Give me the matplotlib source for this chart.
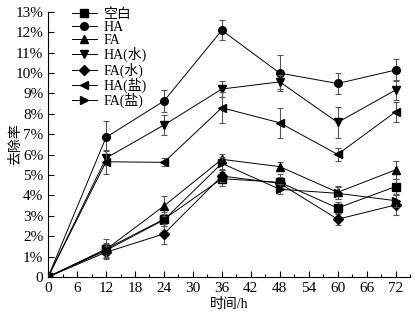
import numpy as np
import matplotlib
matplotlib.use('Agg')
import matplotlib.pyplot as plt
from matplotlib.ticker import MultipleLocator, FuncFormatter

plt.rcParams['font.family'] = ['Liberation Serif', 'Noto Sans CJK SC']
plt.rcParams['font.size'] = 10

# data (removal rate, %)
hours = [0, 12, 24, 36, 48, 60, 72]
names = ['空白', 'HA', 'FA', 'HA(水)', 'FA(水)', 'HA(盐)', 'FA(盐)']
markers = ['s', 'o', '^', 'v', 'D', '<', '>']

blank = [0, 1.37, 2.83, 4.82, 4.64, 3.38, 4.43]
ha = [0, 6.85, 8.63, 12.1, 10.0, 9.49, 10.15]
fa = [0, 1.35, 3.48, 5.77, 5.41, 4.15, 5.25]
ha_w = [0, 5.83, 7.45, 9.22, 9.57, 7.58, 9.17]
fa_w = [0, 1.21, 2.11, 4.95, 4.59, 2.83, 3.53]
ha_s = [0, 5.65, 5.62, 8.3, 7.56, 6.01, 8.1]
fa_s = [0, 1.3, 2.8, 5.57, 4.3, 4.1, 3.74]

blank_err = [0, 0.48, 0.35, 0.35, 0.4, 0.3, 0.35]
ha_err = [0, 0.8, 0.55, 0.5, 0.87, 0.5, 0.55]
fa_err = [0, 0.3, 0.5, 0.25, 0.23, 0.33, 0.45]
ha_w_err = [0, 0.35, 0.5, 0.4, 0.35, 0.75, 0.5]
fa_w_err = [0, 0.3, 0.5, 0.3, 0.3, 0.3, 0.5]
ha_s_err = [0, 0.6, 0.2, 0.75, 0.75, 0.3, 0.5]
fa_s_err = [0, 0.3, 0.3, 0.3, 0.25, 0.3, 0.3]

series = [blank, ha, fa, ha_w, fa_w, ha_s, fa_s]
errs = [blank_err, ha_err, fa_err, ha_w_err, fa_w_err, ha_s_err, fa_s_err]

fig = plt.figure(figsize=(4.15, 3.15), dpi=100)
ax = fig.add_axes([0.116, 0.121, 0.872, 0.841])

handles = []
for y, e, m, n in zip(series, errs, markers, names):
    ax.errorbar(hours, y, yerr=e, fmt='none', ecolor='#555555', elinewidth=0.8,
                capsize=2.5, capthick=0.8)
    h, = ax.plot(hours, y, color='black', lw=0.7, marker=m, markersize=5.5, label=n)
    handles.append(h)

ax.set_xlim(0, 75)
ax.set_ylim(0, 13)
ax.xaxis.set_major_locator(MultipleLocator(6))
ax.xaxis.set_minor_locator(MultipleLocator(3))
ax.yaxis.set_major_locator(MultipleLocator(1))
ax.yaxis.set_major_formatter(FuncFormatter(lambda v, p: '0' if v == 0 else '%d%%' % v))
ax.tick_params(which='both', direction='in', width=0.8, labelsize=11)
ax.tick_params(which='major', length=4)
ax.tick_params(which='minor', length=2)
ax.spines['top'].set_visible(False)
ax.spines['right'].set_visible(False)

ax.set_xlabel('时间/h', labelpad=2)
ax.set_ylabel('去除率', fontsize=10)
ax.yaxis.set_label_coords(-0.072, 0.5)

ax.legend(handles=handles, loc='upper left', bbox_to_anchor=(0.05, 1.035), frameon=False,
          handlelength=1.8, labelspacing=0.0, borderaxespad=0, handletextpad=0.5)

fig.savefig('out.png', dpi=100)
